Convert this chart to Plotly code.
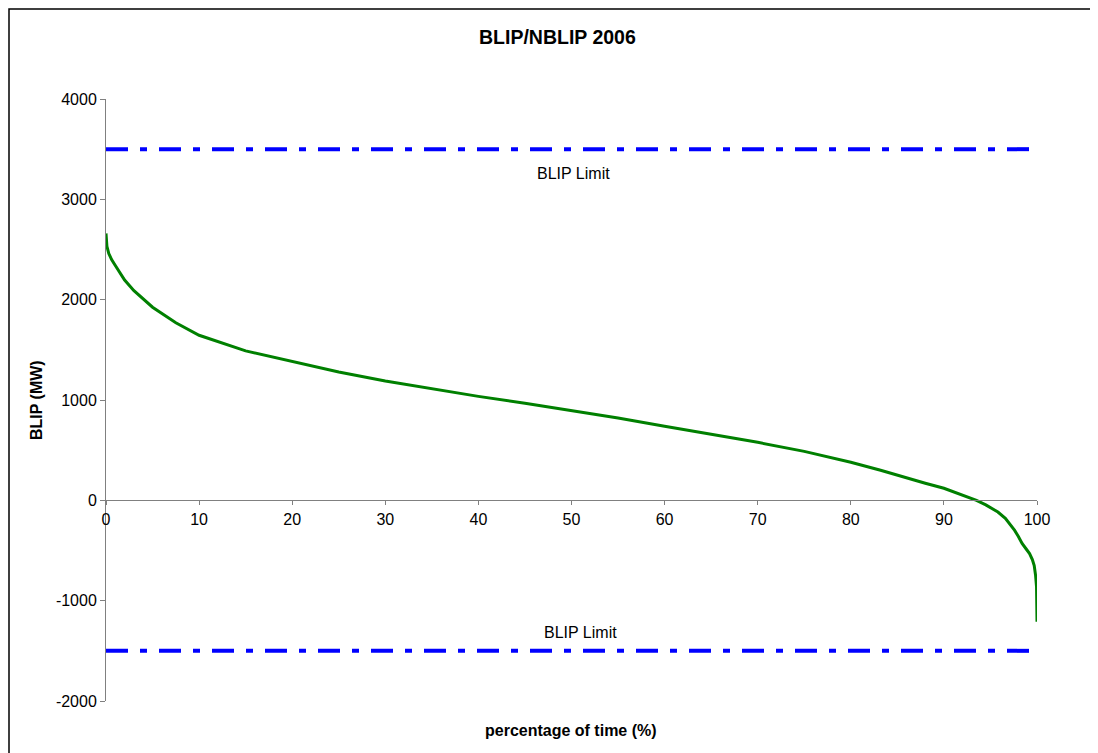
import plotly.graph_objects as go

# Data
pct_time = [0, 0.1, 0.3, 0.6, 1, 2, 3, 5, 7.5, 10, 15, 18.7, 20, 25, 30, 35, 40, 45, 50,
            55, 60, 65, 70, 75, 80, 83.2, 85, 88, 90, 92, 93.5, 94.5, 95.8, 96.6,
            97.2, 97.6, 98.0, 98.4, 98.8, 99.2, 99.5, 99.7, 99.85, 99.95, 100]
blip_mw = [2660, 2530, 2460, 2400, 2340, 2195, 2090, 1925, 1770, 1645, 1490, 1415, 1385, 1280,
           1190, 1110, 1036, 968, 897, 820, 738, 660, 578, 488, 379, 300, 250, 170,
           120, 50, 0, -45, -117, -180, -250, -300, -360, -430, -480, -530, -590, -650,
           -750, -860, -1210]
limit_x = [0, 100]
upper_limit = [3500, 3500]
lower_limit = [-1500, -1500]
limit_label = "BLIP Limit"
y_ticks = [-2000, -1000, 0, 1000, 2000, 3000, 4000]
y_tick_text = ["-2000", "-1000", "0", "1000", "2000", "3000", "4000"]
x_ticks = [0, 10, 20, 30, 40, 50, 60, 70, 80, 90, 100]

OFF = 8  # page body margin
W, H = 1098 - OFF, 753 - OFF
L, R, T, B = 106, 1037, 99, 701  # plot area in page pixels


def px(x):
    return (x - L) / (R - L)


def py(y):
    return (B - y) / (B - T)


fig = go.Figure()
dash = "22px,12px,7px,12px"
fig.add_trace(go.Scatter(x=limit_x, y=upper_limit, mode="lines",
                         line=dict(color="#0000FF", width=4, dash=dash), hoverinfo="skip"))
fig.add_trace(go.Scatter(x=limit_x, y=lower_limit, mode="lines",
                         line=dict(color="#0000FF", width=4, dash=dash), hoverinfo="skip"))
fig.add_trace(go.Scatter(x=pct_time, y=blip_mw, mode="lines",
                         line=dict(color="#008000", width=3)))

font = "Liberation Sans, Arial, sans-serif"
fig.update_layout(
    width=W, height=H,
    margin=dict(l=L - OFF, r=W - (R - OFF), t=T - OFF, b=H - (B - OFF)),
    paper_bgcolor="white", plot_bgcolor="white",
    showlegend=False,
    font=dict(family=font, size=16, color="black"),
    xaxis=dict(range=[0, 100], tickvals=x_ticks, ticks="outside", ticklen=4,
               tickcolor="#808080", showline=True, linecolor="#808080", linewidth=1,
               showgrid=False, zeroline=False, anchor="free",
               position=(0 - y_ticks[0]) / (y_ticks[-1] - y_ticks[0]),
               tickfont=dict(size=16)),
    yaxis=dict(range=[-2000, 4000], tickvals=y_ticks, ticktext=y_tick_text,
               ticks="outside", ticklen=5,
               tickcolor="#808080", showline=True, linecolor="#808080", linewidth=1,
               showgrid=False, zeroline=False, tickfont=dict(size=16)),
    shapes=[dict(type="rect", xref="paper", yref="paper",
                 x0=px(9), x1=px(1092), y0=py(770), y1=py(9),
                 line=dict(color="black", width=1.5), fillcolor="rgba(0,0,0,0)")],
    annotations=[
        dict(text="<b>BLIP/NBLIP 2006</b>", xref="paper", yref="paper",
             x=px(557), y=py(37), showarrow=False, font=dict(size=19.5),
             xanchor="center", yanchor="middle"),
        dict(text="<b>percentage of time (%)</b>", xref="paper", yref="paper",
             x=px(571), y=py(730), showarrow=False, font=dict(size=16),
             xanchor="center", yanchor="middle"),
        dict(text="<b>BLIP (MW)</b>", xref="paper", yref="paper",
             x=px(36), y=py(400), showarrow=False, font=dict(size=16), textangle=-90,
             xanchor="center", yanchor="middle"),
        dict(text=limit_label, xref="x", yref="y", x=50.2, y=3259, showarrow=False,
             font=dict(size=16), xanchor="center", yanchor="middle"),
        dict(text=limit_label, xref="x", yref="y", x=51.0, y=-1322, showarrow=False,
             font=dict(size=16), xanchor="center", yanchor="middle"),
    ],
)

fig.write_html("out.html")
